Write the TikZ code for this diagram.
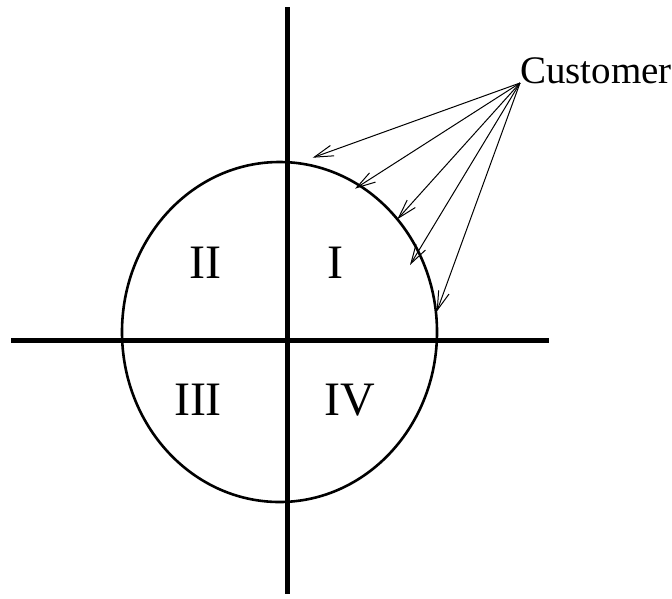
\documentclass[tikz,border=0pt]{standalone}
\usepackage{fontspec}
\setmainfont{Liberation Serif}
\usetikzlibrary{arrows.meta}

\begin{document}
\begin{tikzpicture}[
    x=1pt, y=-1pt,
    >={Straight Barb[length=19pt,width=11pt]},
    quadlbl/.style={font=\fontsize{48}{48}\selectfont, inner sep=0pt},
    custlbl/.style={font=\fontsize{39}{39}\selectfont, inner sep=0pt, anchor=base west},
    axisline/.style={line width=5pt},
    regionline/.style={line width=2.6pt},
    custedge/.style={->, line width=1pt}
]
\useasboundingbox (0,0) rectangle (672,598);

% axes
\coordinate (xl) at (11,340);
\coordinate (xr) at (549,340);
\coordinate (yt) at (287,7);
\coordinate (yb) at (287,594);
\draw[axisline] (xl) -- (xr);
\draw[axisline] (yt) -- (yb);

% region
\coordinate (ctr) at (279.5,332);
\draw[regionline] (ctr) ellipse [x radius=157.5, y radius=170];

% quadrants
\node[quadlbl] (q1) at (335,263) {I};
\node[quadlbl] (q2) at (205,263) {II};
\node[quadlbl] (q3) at (198,400) {III};
\node[quadlbl] (q4) at (350,400) {IV};

% customer
\node[custlbl] (cust) at (520,83) {Customer};
\coordinate (t1) at (312.7,157.7);
\coordinate (t2) at (355,188.7);
\coordinate (t3) at (397.3,219.3);
\coordinate (t4) at (410,265);
\coordinate (t5) at (436.7,311.7);
\foreach \t in {1,...,5}
    \draw[custedge] (cust.base west) -- (t\t);

\end{tikzpicture}
\end{document}
